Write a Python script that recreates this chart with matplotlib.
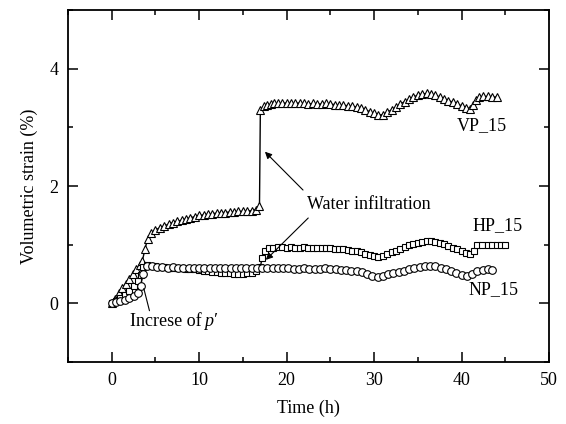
import matplotlib

matplotlib.use("Agg")
import matplotlib.pyplot as plt
from matplotlib.ticker import MultipleLocator

plt.rcParams["font.family"] = ["Liberation Serif", "DejaVu Serif"]

# VP_15 (triangles)
vp_time = [0, 0.4, 0.8, 1.2, 1.6, 2.0, 2.4, 2.8, 3.2, 3.5, 3.8, 4.1, 4.5,
           5, 5.5, 6, 6.5, 7, 7.5, 8, 8.5, 9, 9.5, 10, 10.5, 11, 11.5, 12,
           12.5, 13, 13.5, 14, 14.5, 15, 15.5, 16, 16.5, 16.9, 17.0,
           17.4, 17.8, 18.2, 18.6, 19, 19.5, 20, 20.5, 21, 21.5, 22, 22.5,
           23, 23.5, 24, 24.5, 25, 25.5, 26, 26.5, 27, 27.5, 28, 28.5, 29,
           29.5, 30, 30.5, 31, 31.5, 32, 32.5, 33, 33.5, 34, 34.5, 35, 35.5,
           36, 36.5, 37, 37.5, 38, 38.5, 39, 39.5, 40, 40.5, 41, 41.3, 41.7,
           42, 42.5, 43, 43.5, 44]
vp_strain = [0, 0.08, 0.17, 0.26, 0.34, 0.42, 0.50, 0.58, 0.66, 0.72, 0.92, 1.10, 1.20,
             1.25, 1.29, 1.32, 1.35, 1.38, 1.40, 1.42, 1.44, 1.46, 1.48, 1.50, 1.51, 1.52, 1.53, 1.54,
             1.55, 1.55, 1.56, 1.56, 1.57, 1.57, 1.58, 1.58, 1.60, 1.66, 3.30,
             3.36, 3.38, 3.40, 3.41, 3.41, 3.41, 3.42, 3.41, 3.41, 3.42, 3.41, 3.40,
             3.41, 3.40, 3.40, 3.41, 3.40, 3.39, 3.38, 3.38, 3.37, 3.36, 3.35, 3.33, 3.30,
             3.27, 3.24, 3.21, 3.22, 3.26, 3.30, 3.35, 3.40, 3.44, 3.48, 3.52, 3.55, 3.57,
             3.58, 3.57, 3.55, 3.52, 3.49, 3.46, 3.43, 3.40, 3.37, 3.34, 3.32, 3.38, 3.47,
             3.52, 3.53, 3.53, 3.52, 3.52]

# HP_15 (squares)
hp_time = [0, 0.5, 1, 1.5, 2, 2.5, 3, 3.3, 3.6, 4, 4.5, 5, 5.5, 6, 6.5, 7,
           7.5, 8, 8.5, 9, 9.5, 10, 10.5, 11, 11.5, 12, 12.5, 13, 13.5, 14,
           14.5, 15, 15.5, 16, 16.5, 17.0, 17.2, 17.5, 18, 18.5, 19, 19.5,
           20, 20.5, 21, 21.5, 22, 22.5, 23, 23.5, 24, 24.5, 25, 25.5, 26,
           26.5, 27, 27.5, 28, 28.5, 29, 29.5, 30, 30.5, 31, 31.5, 32, 32.5,
           33, 33.5, 34, 34.5, 35, 35.5, 36, 36.5, 37, 37.5, 38, 38.5, 39,
           39.5, 40, 40.5, 41, 41.4, 41.8, 42.3, 43, 43.5, 44, 44.5, 45]
hp_strain = [0, 0.04, 0.09, 0.14, 0.21, 0.29, 0.38, 0.48, 0.62, 0.65, 0.64, 0.63, 0.62, 0.62, 0.61, 0.61,
             0.60, 0.60, 0.59, 0.59, 0.58, 0.57, 0.56, 0.55, 0.54, 0.53, 0.52, 0.52, 0.52, 0.51,
             0.51, 0.51, 0.52, 0.52, 0.55, 0.62, 0.78, 0.90, 0.94, 0.95, 0.96, 0.96,
             0.95, 0.96, 0.95, 0.95, 0.96, 0.95, 0.94, 0.95, 0.94, 0.95, 0.94, 0.93, 0.93,
             0.92, 0.91, 0.90, 0.89, 0.87, 0.85, 0.83, 0.81, 0.80, 0.81, 0.84, 0.87, 0.90,
             0.93, 0.96, 0.99, 1.01, 1.03, 1.05, 1.06, 1.06, 1.05, 1.03, 1.01, 0.98, 0.95,
             0.92, 0.89, 0.86, 0.84, 0.90, 0.99, 1.00, 1.00, 0.99, 0.99, 1.00, 0.99]

# NP_15 (circles)
np_time = [0, 0.5, 1, 1.5, 2, 2.5, 3, 3.3, 3.6, 4, 4.6, 5.2, 5.8, 6.4, 7,
           7.6, 8.2, 8.8, 9.4, 10, 10.6, 11.2, 11.8, 12.4, 13, 13.6, 14.2,
           14.8, 15.4, 16, 16.6, 17.2, 17.8, 18.4, 19, 19.6, 20.2, 20.8,
           21.4, 22, 22.6, 23.2, 23.8, 24.4, 25, 25.6, 26.2, 26.8, 27.4, 28,
           28.6, 29.2, 29.8, 30.4, 31, 31.6, 32.2, 32.8, 33.4, 34, 34.6, 35.2,
           35.8, 36.4, 37, 37.6, 38.2, 38.8, 39.4, 40, 40.6, 41.2, 41.8, 42.4,
           43, 43.5]
np_strain = [0, 0.02, 0.04, 0.06, 0.09, 0.12, 0.18, 0.30, 0.50, 0.63, 0.63, 0.62, 0.62, 0.61, 0.62,
             0.61, 0.61, 0.60, 0.61, 0.60, 0.60, 0.61, 0.60, 0.60, 0.61, 0.60, 0.61,
             0.60, 0.60, 0.61, 0.61, 0.60, 0.61, 0.60, 0.60, 0.61, 0.60, 0.59,
             0.59, 0.60, 0.59, 0.58, 0.59, 0.60, 0.58, 0.58, 0.57, 0.57, 0.56, 0.55,
             0.53, 0.50, 0.47, 0.45, 0.47, 0.50, 0.52, 0.54, 0.56, 0.58, 0.60, 0.62,
             0.63, 0.64, 0.63, 0.61, 0.58, 0.55, 0.52, 0.49, 0.47, 0.50, 0.55, 0.57,
             0.58, 0.57]

fig = plt.figure(figsize=(5.66, 4.24), dpi=100)
ax = fig.add_axes([0.120, 0.146, 0.850, 0.830])

ax.plot(vp_time, vp_strain, "-", color="black", lw=1.0, marker="^", ms=5.5,
        mfc="white", mec="black", mew=0.8)
ax.plot(hp_time, hp_strain, "-", color="black", lw=1.0, marker="s", ms=5,
        mfc="white", mec="black", mew=0.8)
ax.plot(np_time, np_strain, "-", color="black", lw=1.0, marker="o", ms=5.5,
        mfc="white", mec="black", mew=0.8)

ax.set_xlim(-5, 50)
ax.set_ylim(-1, 5)
ax.xaxis.set_major_locator(MultipleLocator(10))
ax.xaxis.set_minor_locator(MultipleLocator(5))
ax.yaxis.set_major_locator(MultipleLocator(2))
ax.yaxis.set_minor_locator(MultipleLocator(1))
ax.tick_params(which="both", direction="in", top=True, right=True,
               labelsize=13, width=1.1)
ax.tick_params(which="major", length=7, pad=7)
ax.tick_params(which="minor", length=3.5)
for spine in ax.spines.values():
    spine.set_linewidth(1.3)

ax.set_xlabel("Time (h)", fontsize=13, labelpad=8)
ax.set_ylabel("Volumetric strain (%)", fontsize=13, labelpad=8)

ax.text(22.3, 1.68, "Water infiltration", fontsize=13, va="center", ha="left")
ax.annotate("", xy=(17.3, 2.62), xytext=(22.1, 1.90),
            arrowprops=dict(arrowstyle="-|>", color="black", lw=0.8, mutation_scale=10))
ax.annotate("", xy=(17.4, 0.71), xytext=(22.7, 1.49),
            arrowprops=dict(arrowstyle="-|>", color="black", lw=0.8, mutation_scale=10))

ax.text(2.1, -0.31, "Increse of", fontsize=13, va="center", ha="left")
ax.text(10.6, -0.31, "p\u2032", fontsize=13, va="center", ha="left", style="italic")
ax.annotate("", xy=(3.6, 0.30), xytext=(4.4, -0.17),
            arrowprops=dict(arrowstyle="-", color="black", lw=0.8))

ax.text(39.5, 3.04, "VP_15", fontsize=13, va="center", ha="left")
ax.text(41.2, 1.32, "HP_15", fontsize=13, va="center", ha="left")
ax.text(40.8, 0.24, "NP_15", fontsize=13, va="center", ha="left")

fig.savefig("out.png", dpi=100)
